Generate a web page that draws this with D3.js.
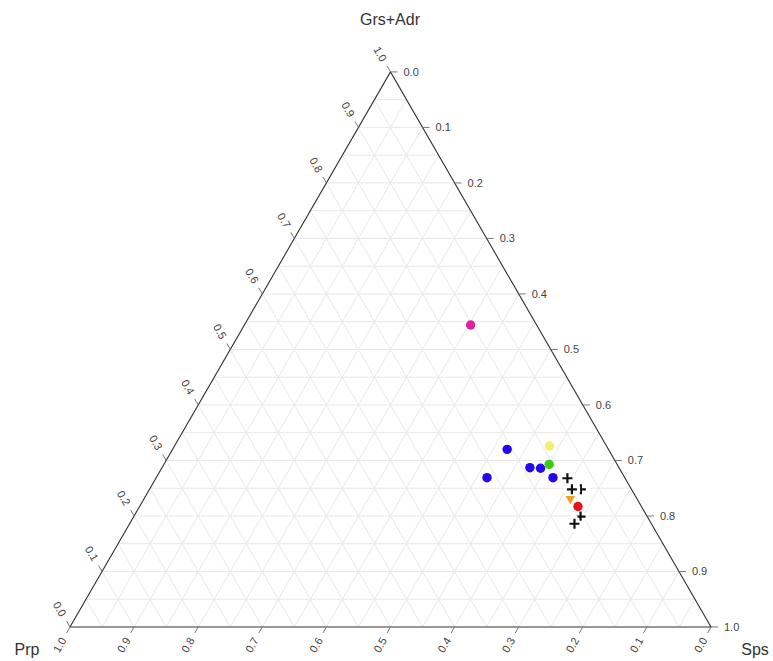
<!DOCTYPE html>
<html>
<head>
<meta charset="utf-8">
<script src="https://cdn.jsdelivr.net/npm/d3@7"></script>
<style>
  html, body { margin: 0; padding: 0; background: #fff; }
  svg { display: block; }
  text { font-family: "Liberation Sans", Arial, sans-serif; }
</style>
</head>
<body>
<svg id="chart" width="773" height="661"></svg>
<script>
// Ternary components (fractions): Grs+Adr at the top, Prp bottom-left, Sps bottom-right
const axisTitles = ["Grs+Adr", "Prp", "Sps"];
const tickValues = [0, 0.1, 0.2, 0.3, 0.4, 0.5, 0.6, 0.7, 0.8, 0.9, 1.0];
const gridValues = d3.range(1, 20).map(i => i / 20);

// Analyses, one entry per marker
const grsAdr = [0.544, 0.320, 0.269, 0.287, 0.286, 0.269, 0.326, 0.293, 0.231, 0.217, 0.268, 0.248, 0.248, 0.186, 0.199];
const prp    = [0.103, 0.158, 0.215, 0.139, 0.123, 0.112, 0.089, 0.106, 0.104, 0.099, 0.090, 0.093, 0.079, 0.120, 0.104];
const sps    = [0.353, 0.522, 0.516, 0.574, 0.591, 0.619, 0.585, 0.601, 0.665, 0.684, 0.642, 0.659, 0.673, 0.694, 0.697];
const group  = ["G1", "G2", "G2", "G2", "G2", "G2", "G3", "G4", "G5", "G6", "G7", "G7", "G7", "G7", "G7"];

const groupColor  = { G1: "#e21f9f", G2: "#2306ee", G3: "#f0f06a", G4: "#3ccc12", G5: "#f2a02a", G6: "#e7131b", G7: "#111111" };
const groupSymbol = { G1: "circle", G2: "circle", G3: "circle", G4: "circle", G5: "triangle-down", G6: "circle", G7: "cross" };

const svg = d3.select("#chart");

// Horizontal position = Sps + Grs/2, vertical position = Grs+Adr
const x = d3.scaleLinear().domain([0, 1]).range([70, 711]);
const y = d3.scaleLinear().domain([0, 1]).range([627, 71.9]);
const project = (a, b, c) => {
  const s = a + b + c;
  a /= s; c /= s;
  return [x(c + a / 2), y(a)];
};

// Grid: lines of constant a, b and c every 0.05
const grid = svg.append("g").attr("stroke", "#e8e8e8").attr("stroke-width", 1).attr("fill", "none");
gridValues.forEach(v => {
  const segs = [
    [project(v, 1 - v, 0), project(v, 0, 1 - v)],   // constant Grs+Adr
    [project(1 - v, v, 0), project(0, v, 1 - v)],   // constant Prp
    [project(1 - v, 0, v), project(0, 1 - v, v)]    // constant Sps
  ];
  segs.forEach(([p, q]) => {
    grid.append("line").attr("x1", p[0]).attr("y1", p[1]).attr("x2", q[0]).attr("y2", q[1]);
  });
});

// Outline
const apexTop = project(1, 0, 0), apexLeft = project(0, 1, 0), apexRight = project(0, 0, 1);
svg.append("path")
  .attr("d", d3.line()([apexTop, apexLeft, apexRight]) + "Z")
  .attr("fill", "none").attr("stroke", "#333").attr("stroke-width", 1.1);

// Ticks and tick labels for each side
const tickLen = 7, labelOff = 13;
const sides = [
  { // Grs+Adr on the left edge
    pos: v => project(v, 1 - v, 0), dir: [-0.5, -Math.sqrt(3) / 2], rot: 60, anchor: "end"
  },
  { // Prp on the bottom edge
    pos: v => project(0, v, 1 - v), dir: [-0.5, Math.sqrt(3) / 2], rot: -60, anchor: "end"
  },
  { // Sps on the right edge
    pos: v => project(1 - v, 0, v), dir: [1, 0], rot: 0, anchor: "start"
  }
];
const tickFmt = d3.format(".1f");
sides.forEach(s => {
  const g = svg.append("g");
  tickValues.forEach(v => {
    const p = s.pos(v);
    g.append("line")
      .attr("x1", p[0]).attr("y1", p[1])
      .attr("x2", p[0] + s.dir[0] * tickLen).attr("y2", p[1] + s.dir[1] * tickLen)
      .attr("stroke", "#777").attr("stroke-width", 1);
    const lx = p[0] + s.dir[0] * labelOff, ly = p[1] + s.dir[1] * labelOff;
    g.append("text")
      .attr("transform", `translate(${lx},${ly}) rotate(${s.rot})`)
      .attr("text-anchor", s.anchor)
      .attr("dy", "0.35em")
      .attr("font-size", 11)
      .attr("fill", "#444")
      .text(tickFmt(v));
  });
});

// Axis titles
svg.append("text").attr("x", 390).attr("y", 25).attr("text-anchor", "middle")
  .attr("font-size", 16).attr("fill", "#333").text(axisTitles[0]);
svg.append("text").attr("x", 27).attr("y", 655).attr("text-anchor", "middle")
  .attr("font-size", 16).attr("fill", "#333").text(axisTitles[1]);
svg.append("text").attr("x", 755).attr("y", 655).attr("text-anchor", "middle")
  .attr("font-size", 16).attr("fill", "#333").text(axisTitles[2]);

// Markers
const points = grsAdr.map((a, i) => {
  const [px, py] = project(a, prp[i], sps[i]);
  return { px, py, g: group[i] };
});

const crossPath = (r) => `M${-r},0H${r}M0,${-r}V${r}`;
const marks = svg.append("g");

// crosses first, each with a white halo so overlapping crosses stay legible
points.filter(d => groupSymbol[d.g] === "cross").slice().reverse().forEach(d => {
  const cg = marks.append("g").attr("transform", `translate(${d.px},${d.py})`);
  cg.append("path").attr("d", crossPath(8.2)).attr("stroke", "#fff").attr("stroke-width", 6).attr("fill", "none");
  cg.append("path").attr("d", crossPath(5)).attr("stroke", groupColor[d.g]).attr("stroke-width", 2.2).attr("fill", "none");
});

points.filter(d => groupSymbol[d.g] === "triangle-down").forEach(d => {
  marks.append("path")
    .attr("transform", `translate(${d.px},${d.py}) rotate(180)`)
    .attr("d", d3.symbol(d3.symbolTriangle, 40)())
    .attr("fill", groupColor[d.g]);
});

points.filter(d => groupSymbol[d.g] === "circle").forEach(d => {
  marks.append("circle")
    .attr("cx", d.px).attr("cy", d.py).attr("r", 4.7)
    .attr("fill", groupColor[d.g]);
});
</script>
</body>
</html>
